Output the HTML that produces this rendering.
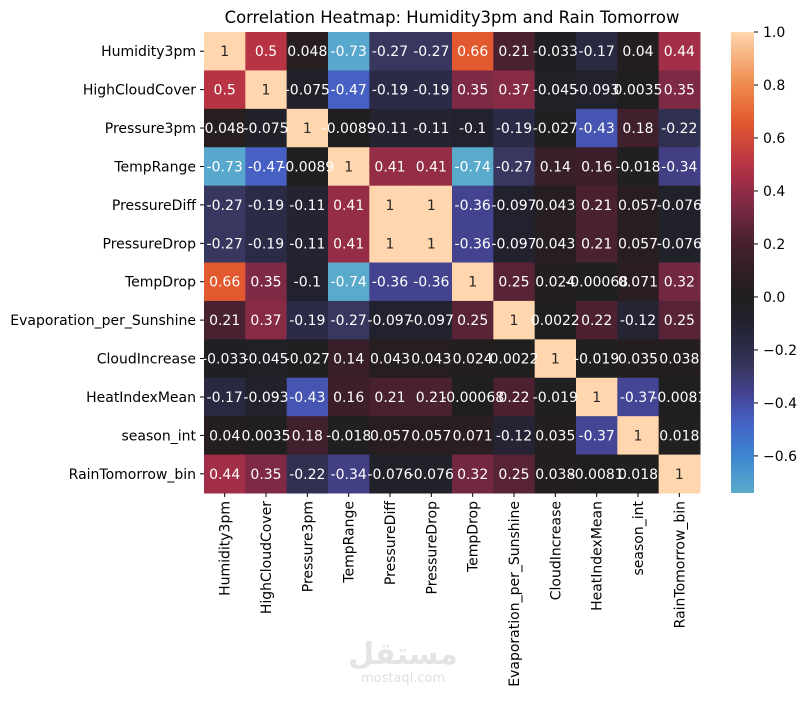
<!DOCTYPE html>
<html><head><meta charset="utf-8"><style>
body{margin:0;background:#fff;}
svg text{font-family:"DejaVu Sans","Liberation Sans",sans-serif;}
</style></head><body>
<svg id="chart" width="807" height="698" xmlns="http://www.w3.org/2000/svg">
<text x="452" y="23" font-size="16.4" text-anchor="middle">Correlation Heatmap: Humidity3pm and Rain Tomorrow</text>
<g id="cells"></g><g id="ylab"></g><g id="xlab"></g>
<defs><linearGradient id="cbg" x1="0" y1="1" x2="0" y2="0"></linearGradient></defs>
<rect x="731" y="32" width="23" height="461" fill="url(#cbg)"/>
<g id="cbt"></g>
<text x="403" y="664" font-size="30" font-weight="bold" fill="#e4e4e4" text-anchor="middle">مستقل</text>
<text x="403" y="682" font-size="13" fill="#e0e0e0" text-anchor="middle">mostaql.com</text>
</svg>
<script>
const labels=["Humidity3pm","HighCloudCover","Pressure3pm","TempRange","PressureDiff","PressureDrop","TempDrop","Evaporation_per_Sunshine","CloudIncrease","HeatIndexMean","season_int","RainTomorrow_bin"];
const matrix=[
[1,0.5,0.048,-0.73,-0.27,-0.27,0.66,0.21,-0.033,-0.17,0.04,0.44],
[0.5,1,-0.075,-0.47,-0.19,-0.19,0.35,0.37,-0.045,-0.093,0.0035,0.35],
[0.048,-0.075,1,-0.0089,-0.11,-0.11,-0.1,-0.19,-0.027,-0.43,0.18,-0.22],
[-0.73,-0.47,-0.0089,1,0.41,0.41,-0.74,-0.27,0.14,0.16,-0.018,-0.34],
[-0.27,-0.19,-0.11,0.41,1,1,-0.36,-0.097,0.043,0.21,0.057,-0.076],
[-0.27,-0.19,-0.11,0.41,1,1,-0.36,-0.097,0.043,0.21,0.057,-0.076],
[0.66,0.35,-0.1,-0.74,-0.36,-0.36,1,0.25,0.024,-0.00068,0.071,0.32],
[0.21,0.37,-0.19,-0.27,-0.097,-0.097,0.25,1,0.0022,0.22,-0.12,0.25],
[-0.033,-0.045,-0.027,0.14,0.043,0.043,0.024,0.0022,1,-0.019,0.035,0.038],
[-0.17,-0.093,-0.43,0.16,0.21,0.21,-0.00068,0.22,-0.019,1,-0.37,-0.0081],
[0.04,0.0035,0.18,-0.018,0.057,0.057,0.071,-0.12,0.035,-0.37,1,0.018],
[0.44,0.35,-0.22,-0.34,-0.076,-0.076,0.32,0.25,0.038,-0.0081,0.018,1]];
const cbTicks=[1.0,0.8,0.6,0.4,0.2,0.0,-0.2,-0.4,-0.6];
const vmin=-0.74,vmax=1;
const stops=[[-0.74,"#5aaacc"],[-0.6,"#3d85d0"],[-0.47,"#4660c4"],[-0.35,"#43408a"],[-0.27,"#37375f"],[-0.19,"#2b2b48"],[-0.1,"#22222e"],[0,"#1f1f1f"],[0.05,"#271e20"],[0.2,"#45202f"],[0.35,"#7f2a45"],[0.44,"#a22e47"],[0.5,"#b83444"],[0.66,"#e2592f"],[0.8,"#ee8a4c"],[0.9,"#f6b07c"],[1,"#ffd6ad"]];
function hx(c){return [1,3,5].map(i=>parseInt(c.substr(i,2),16));}
function color(v){for(let i=1;i<stops.length;i++){if(v<=stops[i][0]){const a=stops[i-1],b=stops[i];const t=(v-a[0])/(b[0]-a[0]);const ca=hx(a[1]),cb=hx(b[1]);return "rgb("+ca.map((x,k)=>Math.round(x+(cb[k]-x)*t)).join(",")+")";}}return stops[stops.length-1][1];}
const X0=204,Y0=32,W=496,H=461,n=labels.length,cw=W/n,ch=H/n;
const xs=i=>X0+i*cw, ys=i=>Y0+i*ch;
const NS="http://www.w3.org/2000/svg";
function mk(t,a,p){const e=document.createElementNS(NS,t);for(const k in a)e.setAttribute(k,a[k]);p.appendChild(e);return e;}
const cells=document.getElementById('cells');
function fmt(v){return String(parseFloat(v.toPrecision(2)));}
matrix.forEach((row,r)=>row.forEach((v,c)=>{
 const rc=mk('rect',{x:xs(c),y:ys(r),width:cw+0.5,height:ch+0.5,fill:color(v)},cells);
 
 
}));
matrix.forEach((row,r)=>row.forEach((v,c)=>{
 const t=mk('text',{x:xs(c)+cw/2,y:ys(r)+ch/2+5,'font-size':14,'text-anchor':'middle',fill:v>0.85?'#262626':'#fff'},cells);
 t.textContent=fmt(v);
 
 
}));
const yl=document.getElementById('ylab'),xl=document.getElementById('xlab');
labels.forEach((l,i)=>{
 mk('line',{x1:X0-4,x2:X0,y1:ys(i)+ch/2,y2:ys(i)+ch/2,stroke:'#000'},yl);
 const t=mk('text',{x:X0-8,y:ys(i)+ch/2+5,'font-size':14,'text-anchor':'end'},yl);
 t.textContent=l;
 
 
 const cx=xs(i)+cw/2;
 mk('line',{x1:cx,x2:cx,y1:Y0+H,y2:Y0+H+4,stroke:'#000'},xl);
 const u=mk('text',{x:cx+5,y:Y0+H+8,'font-size':14,'text-anchor':'end',transform:`rotate(-90 ${cx+5} ${Y0+H+8})`},xl);
 u.textContent=l;
 
 
});
const g=document.getElementById('cbg');
for(let k=0;k<=40;k++){const v=vmin+(vmax-vmin)*k/40;mk('stop',{offset:k/40,'stop-color':color(v)},g);}
const cb=document.getElementById('cbt');
const cy=v=>32+(vmax-v)/(vmax-vmin)*461;
cbTicks.forEach(v=>{
 mk('line',{x1:754,x2:758,y1:cy(v),y2:cy(v),stroke:'#000'},cb);
 const t=mk('text',{x:763,y:cy(v)+5,'font-size':14},cb);
 t.textContent=(v<0?'\u2212':'')+Math.abs(v).toFixed(1);
 
 
});
</script>
</body></html>
